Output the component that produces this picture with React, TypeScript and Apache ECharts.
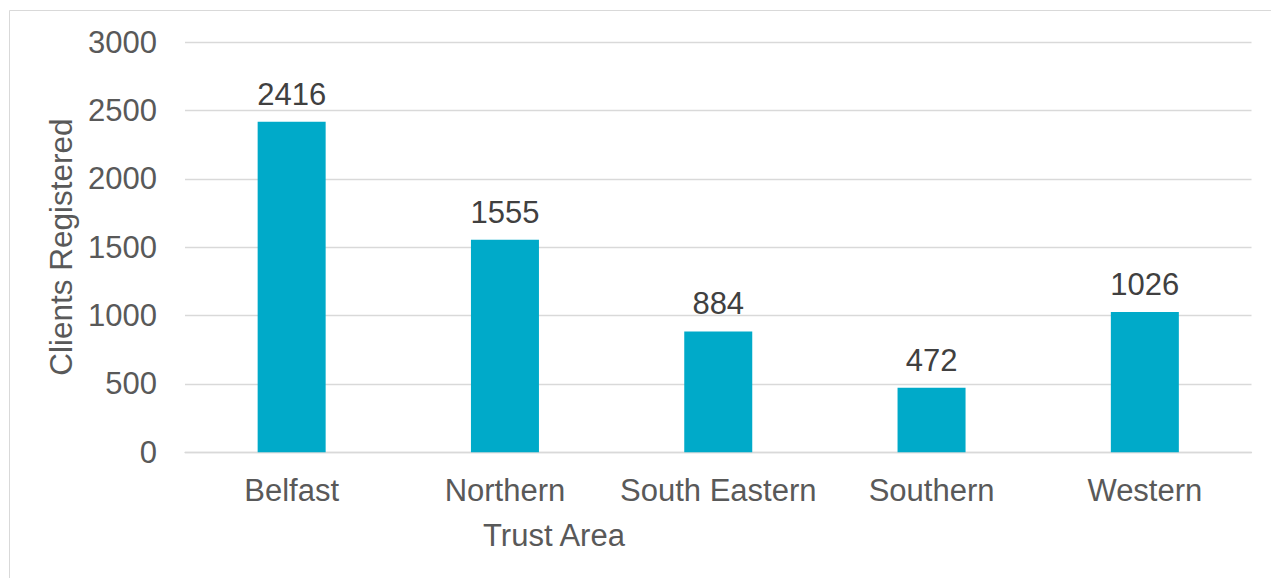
import React, { useEffect, useRef } from "react";
import * as echarts from "echarts";

const categories = ["Belfast", "Northern", "South Eastern", "Southern", "Western"];
const clients = [2416, 1555, 884, 472, 1026];
const yTicks = { min: 0, max: 3000, interval: 500 };
const xAxisTitle = "Trust Area";
const yAxisTitle = "Clients Registered";

export default function App() {
  const ref = useRef<HTMLDivElement>(null);
  useEffect(() => {
    if (!ref.current) return;
    const chart = echarts.init(ref.current, undefined, { renderer: "svg" });
    const font = "Liberation Sans, Arial, sans-serif";
    const fs = 31;
    chart.setOption({
      animation: false,
      backgroundColor: "#ffffff",
      grid: { left: 185, right: 19.5, top: 42, bottom: 125.7, containLabel: false },
      xAxis: {
        type: "category",
        data: categories,
        axisLine: { show: true, lineStyle: { color: "#d9d9d9", width: 1.3 } },
        axisTick: { show: false },
        axisLabel: { color: "#595959", fontSize: fs, fontFamily: font, margin: 23, interval: 0 },
      },
      yAxis: {
        type: "value",
        min: yTicks.min,
        max: yTicks.max,
        interval: yTicks.interval,
        name: yAxisTitle,
        nameLocation: "middle",
        nameGap: 108,
        nameRotate: 90,
        nameTextStyle: { color: "#595959", fontSize: 31.5, fontFamily: font },
        axisLine: { show: false },
        axisTick: { show: false },
        axisLabel: {
          color: "#595959",
          fontSize: fs,
          fontFamily: font,
          margin: 28,
          formatter: (v: number) => String(v),
        },
        splitLine: { lineStyle: { color: "#d9d9d9", width: 1.3 } },
      },
      graphic: [
        {
          type: "rect",
          shape: { x: 9.5, y: 10.5, width: 1400, height: 700 },
          style: { fill: "none", stroke: "#d9d9d9", lineWidth: 1 },
          silent: true,
        },
        {
          type: "text",
          x: 554,
          y: 535,
          style: {
            text: xAxisTitle,
            fill: "#595959",
            fontSize: fs,
            fontFamily: font,
            textAlign: "center",
            textVerticalAlign: "middle",
          },
        },
      ],
      series: [
        {
          type: "bar",
          data: clients,
          barWidth: 68,
          itemStyle: { color: "#00aac9" },
          label: {
            show: true,
            position: "top",
            distance: 12,
            color: "#404040",
            fontSize: fs,
            fontFamily: font,
          },
        },
      ],
    });
    return () => chart.dispose();
  }, []);
  return <div ref={ref} style={{ position: "fixed", left: 0, top: 0, width: 1271, height: 578 }} />;
}
